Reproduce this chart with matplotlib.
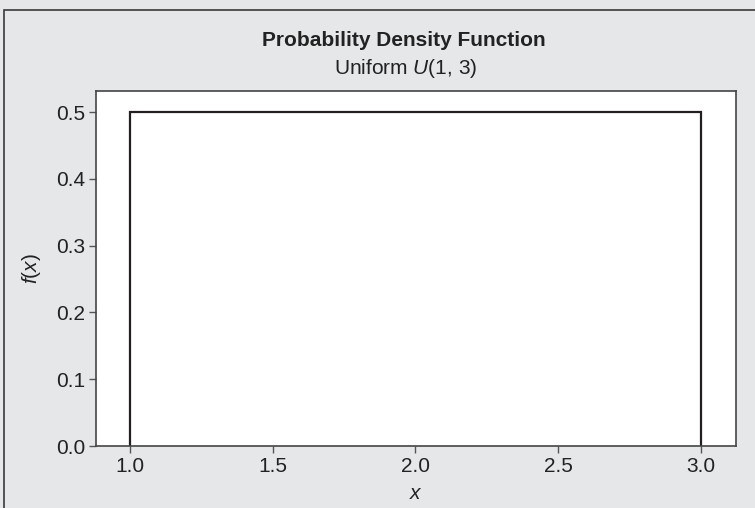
import numpy as np
import matplotlib.pyplot as plt
from matplotlib.patches import Rectangle

plt.rcParams['font.family'] = ['Liberation Sans', 'DejaVu Sans']
plt.rcParams['mathtext.fontset'] = 'custom'
plt.rcParams['mathtext.it'] = 'Liberation Sans:italic'
plt.rcParams['mathtext.rm'] = 'Liberation Sans'

# uniform U(1, 3) density
a, b = 1.0, 3.0
density = 1.0 / (b - a)
x_ticks = [1.0, 1.5, 2.0, 2.5, 3.0]
y_ticks = [0.0, 0.1, 0.2, 0.3, 0.4, 0.5]

W, H = 755, 508
fig = plt.figure(figsize=(W / 100, H / 100), dpi=100)
fig.patch.set_facecolor('#e6e7e9')
# outer frame (runs off the right and bottom edges)
fig.patches.append(Rectangle((4 / W, -0.1), 1.2, 1.1 - 10 / H, transform=fig.transFigure,
                             fill=False, edgecolor='#3a3a3a', linewidth=1.2))

ax = fig.add_axes([96 / W, 62 / H, 640 / W, 355 / H])
ax.set_facecolor('white')

xs = [a, a, b, b]
ys = [0, density, density, 0]
ax.plot(xs, ys, color='#231f20', linewidth=1.6, solid_joinstyle='miter')

ax.set_xlim(0.881, 3.123)
ax.set_ylim(0, 0.5315)
ax.set_xticks(x_ticks)
ax.set_yticks(y_ticks)
ax.set_xticklabels([f'{t:.1f}' for t in x_ticks])
ax.set_yticklabels([f'{t:.1f}' for t in y_ticks])
ax.tick_params(labelsize=15, length=5, width=1, color='#555555', labelcolor='#222222', pad=3)
for s in ax.spines.values():
    s.set_color('#444444')
    s.set_linewidth(1.2)

ax.set_xlabel('$x$', fontsize=15, color='#222222', labelpad=6)
ax.set_ylabel('$f$($x$)', fontsize=15, color='#222222', labelpad=9)

fig.text(404 / W, 1 - 40 / H, 'Probability Density Function', ha='center', va='center',
         fontsize=15, fontweight='bold', color='#222222')
fig.text(406 / W, 1 - 69 / H, 'Uniform $U$(1, 3)', ha='center', va='center',
         fontsize=15, color='#222222')

fig.savefig('out.png', dpi=100, facecolor=fig.get_facecolor())
